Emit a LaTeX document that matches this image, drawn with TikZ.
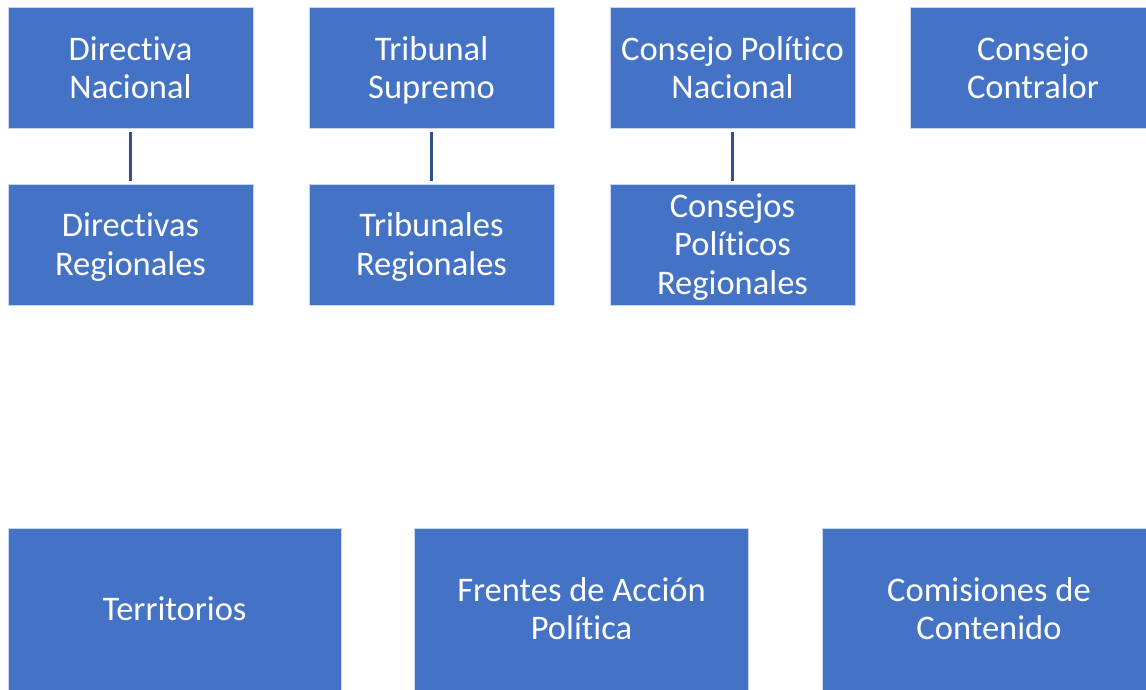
\documentclass[tikz,border=0pt]{standalone}
\usepackage{fontspec}
\setmainfont{Carlito}[Ligatures={NoCommon}]
\definecolor{boxblue}{HTML}{4472C4}
\definecolor{lineblue}{HTML}{2F528F}
\newcommand\eqz{\vphantom{Ápgl}}
\begin{document}
\begin{tikzpicture}[x=1pt,y=-1pt,
  orgbox/.style={fill=boxblue,draw=white!70!boxblue,line width=0.6pt,text=white,align=center,
    font=\fontsize{34.5}{38.5}\selectfont,inner sep=0pt},
  link/.style={draw=lineblue,line width=2.4pt}]
\useasboundingbox (0,0) rectangle (1146,689);
\begin{scope}
\clip (0,0) rectangle (1146,689);
% row 1
\node[orgbox,minimum width=245,minimum height=121] (dn) at (130.5,68) {\eqz Directiva\\\eqz Nacional};
\node[orgbox,minimum width=245,minimum height=121] (ts) at (431.5,68) {\eqz Tribunal\\\eqz Supremo};
\node[orgbox,minimum width=245,minimum height=121] (cpn) at (732.5,68) {\eqz Consejo Político\\\eqz Nacional};
\node[orgbox,minimum width=246,minimum height=121] (cc) at (1033,68) {\eqz Consejo\\\eqz Contralor};
% row 2
\node[orgbox,minimum width=245,minimum height=121] (dr) at (130.5,244.5) {\eqz Directivas\\\eqz Regionales};
\node[orgbox,minimum width=245,minimum height=121] (tr) at (431.5,244.5) {\eqz Tribunales\\\eqz Regionales};
\node[orgbox,minimum width=245,minimum height=121] (cpr) at (732.5,244.5) {\eqz Consejos\\\eqz Políticos\\\eqz Regionales};
% row 3
\node[orgbox,minimum width=333,minimum height=162] (te) at (174.5,609) {\eqz Territorios};
\node[orgbox,minimum width=334,minimum height=162] (fa) at (581.5,609) {\eqz Frentes de Acción\\\eqz Política};
\node[orgbox,minimum width=334,minimum height=162] (co) at (989,609) {\eqz Comisiones de\\\eqz Contenido};
% connectors
\draw[link] ([yshift=-3]dn.south) -- ([yshift=3]dr.north);
\draw[link] ([yshift=-3]ts.south) -- ([yshift=3]tr.north);
\draw[link] ([yshift=-3]cpn.south) -- ([yshift=3]cpr.north);
\end{scope}
\end{tikzpicture}
\end{document}
